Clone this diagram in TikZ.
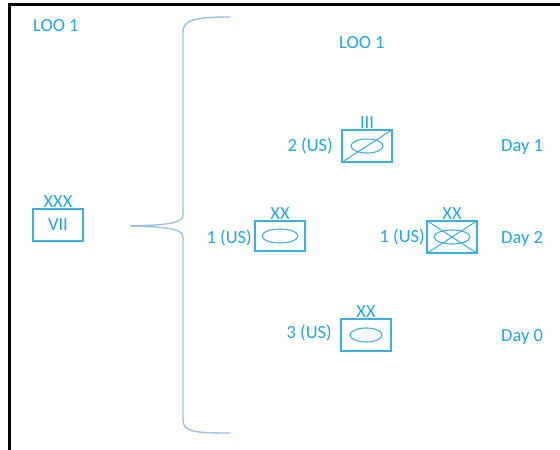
\documentclass[tikz,border=0pt]{standalone}
\usepackage{fontspec}
\usetikzlibrary{shapes.geometric}
\setmainfont{Carlito}
\definecolor{txtblue}{HTML}{22A6E0}
\definecolor{boxblue}{HTML}{3AAEE0}
\definecolor{braceblue}{HTML}{9CC2E5}
\begin{document}
\begin{tikzpicture}[x=1pt,y=-1pt,
  lbl/.style={text=txtblue,font=\fontsize{18.5}{21}\selectfont,inner sep=0pt},
  unit/.style={draw=boxblue,line width=1.1pt,minimum width=50pt,minimum height=32pt,inner sep=0pt},
  ell/.style={draw=boxblue,line width=1.1pt,ellipse,inner sep=0pt},
  ]
\useasboundingbox (0,0) rectangle (560,450);
% frame
\draw[line width=2.5pt,black] (9.5,452) -- (9.5,4.5) -- (562,4.5);
% labels top
\node[lbl,anchor=west] (loo1a) at (33,26) {LOO 1};
\node[lbl,anchor=west] (loo1b) at (339,43) {LOO 1};
% brace
\draw[braceblue,line width=1.4pt] (230,17) .. controls (195,17) and (183,20) .. (183,32) -- (183,214) .. controls (183,222) and (175,225) .. (130,226) .. controls (175,227) and (183,230) .. (183,238) -- (183,420) .. controls (183,432) and (195,433) .. (230,433);
% VII
\node[unit,minimum height=32pt] (vii) at (58,225) {};
\node[lbl] (viit) at (vii.center) {VII};
\node[lbl,anchor=south] (viie) at ([yshift=0.5pt]vii.north) {XXX};
% 2 (US)
\node[unit] (u2) at (367,146) {};
\node[ell,minimum width=32pt,minimum height=14pt] (u2e) at (u2.center) {};
\draw[boxblue,line width=1pt] (u2.south west) -- (u2.north east);
\node[lbl,anchor=south] (u2x) at ([yshift=0.5pt]u2.north) {III};
\node[lbl,anchor=east] (u2l) at (333,146) {2 (US)};
% 1 (US) left
\node[unit,minimum height=30pt] (u1) at (280,236) {};
\node[ell,minimum width=36pt,minimum height=14pt] (u1e) at (u1.center) {};
\node[lbl,anchor=south] (u1x) at ([yshift=0.5pt]u1.north) {XX};
\node[lbl,anchor=east] (u1l) at (252,238) {1 (US)};
% 1 (US) right
\node[unit] (u1r) at (452,237) {};
\node[ell,minimum width=36pt,minimum height=14pt] (u1re) at (u1r.center) {};
\draw[boxblue,line width=1pt] (u1r.south west) -- (u1r.north east);
\draw[boxblue,line width=1pt] (u1r.north west) -- (u1r.south east);
\node[lbl,anchor=south] (u1rx) at ([yshift=0.5pt]u1r.north) {XX};
\node[lbl,anchor=east] (u1rl) at (425,237) {1 (US)};
% 3 (US)
\node[unit] (u3) at (366,335) {};
\node[ell,minimum width=32pt,minimum height=14pt] (u3e) at (u3.center) {};
\node[lbl,anchor=south] (u3x) at ([yshift=0.5pt]u3.north) {XX};
\node[lbl,anchor=east] (u3l) at (332,333) {3 (US)};
% days
\node[lbl,anchor=west] (d1) at (501,147) {Day 1};
\node[lbl,anchor=west] (d2) at (501,239) {Day 2};
\node[lbl,anchor=west] (d0) at (501,337) {Day 0};
\end{tikzpicture}
\end{document}
